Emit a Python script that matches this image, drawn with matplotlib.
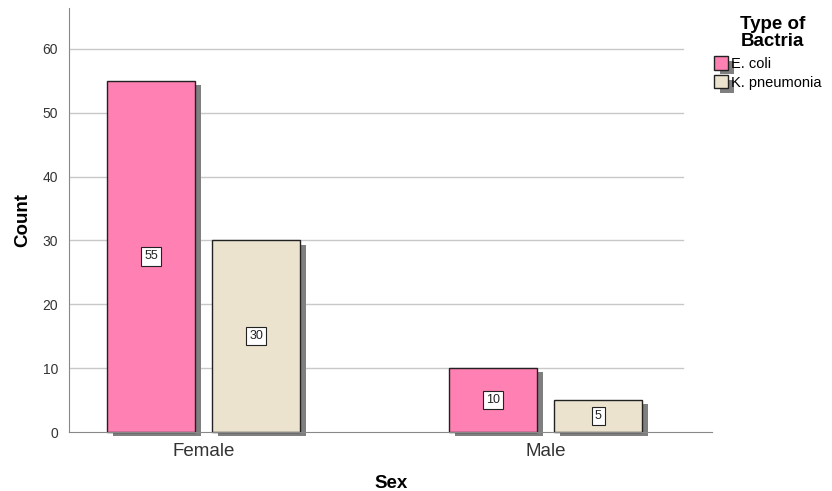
import numpy as np
import matplotlib.pyplot as plt
import matplotlib.patheffects as pe

plt.rcParams['font.family'] = ['Liberation Sans', 'DejaVu Sans']

sexes = ["Female", "Male"]
bacteria = ["E. coli", "K. pneumonia"]
counts = {
    "E. coli": [55, 10],
    "K. pneumonia": [30, 5],
}
colors = ["#FF80B2", "#EBE3CD"]
yticks = [0, 10, 20, 30, 40, 50, 60]

fig = plt.figure(figsize=(8.32, 4.91), dpi=100)
ax = fig.add_axes([0.083, 0.120, 0.773, 0.864])

x = np.arange(len(sexes))
width = 0.257
offsets = [-0.1535, 0.1535]
shadow = [pe.SimplePatchShadow(offset=(4.3, -3), shadow_rgbFace="#7f7f7f", alpha=1.0), pe.Normal()]

for name, off, col in zip(bacteria, offsets, colors):
    bars = ax.bar(x + off, counts[name], width, color=col, edgecolor="#222222",
                  linewidth=1.0, label=name, zorder=3, clip_on=False)
    for b in bars:
        b.set_path_effects(shadow)
        ax.text(b.get_x() + b.get_width() / 2, b.get_height() / 2, str(int(b.get_height())),
                ha="center", va="center", fontsize=9, zorder=5, color="#222222",
                bbox=dict(boxstyle="square,pad=0.25", fc="white", ec="#222222", lw=0.8))

for y in yticks[1:]:
    ax.axhline(y, xmax=0.955, color="#c8c8c8", lw=1.0, zorder=1)

ax.set_xlim(-0.393, 1.487)
ax.set_ylim(0, 66.4)
ax.set_yticks(yticks)
ax.set_xticks(x)
ax.set_xticklabels(sexes, fontsize=13.5, color="#333333")
ax.tick_params(axis="y", length=0, labelsize=10, pad=8, labelcolor="#333333")
ax.tick_params(axis="x", length=0, pad=8)

for s in ["top", "right"]:
    ax.spines[s].set_visible(False)
ax.spines["left"].set_color("#888888")
ax.spines["bottom"].set_color("#888888")
ax.spines["left"].set_zorder(4)
ax.spines["bottom"].set_zorder(4)

ax.set_ylabel("Count", fontsize=13.5, fontweight="bold", labelpad=8)
ax.set_xlabel("Sex", fontsize=13.5, fontweight="bold", labelpad=11)

# legend title drawn separately so the gap to the entries can match
fig.text(0.929, 0.968, "Type of\nBactria", ha="center", va="top", fontsize=13.5,
         fontweight="bold", linespacing=1.05)
leg = fig.legend(loc="upper left", bbox_to_anchor=(0.858, 0.885), frameon=False,
                 fontsize=10.5, handlelength=1.0, handleheight=1.0,
                 handletextpad=0.2, labelspacing=0.3, borderaxespad=0, borderpad=0)

fig.savefig("out.png", dpi=100)
